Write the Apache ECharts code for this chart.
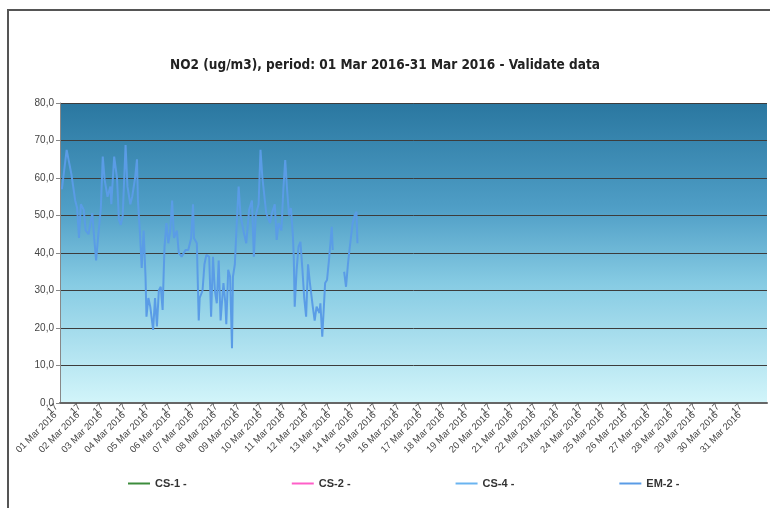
<!DOCTYPE html>
<html>
<head>
<meta charset="utf-8">
<script src="https://cdn.jsdelivr.net/npm/echarts@6/dist/echarts.min.js"></script>
<style>
  body { margin: 0; background: #fff; }
  #chart { width: 770px; height: 508px; }
</style>
</head>
<body>
<div id="chart"></div>
<script>
  // hours since 01 Mar 2016 00:00 and NO2 values
  var hours = [2, 7, 12, 16, 18, 20, 22, 25, 27, 30, 32, 34, 36, 38, 40, 43, 45, 47, 50, 53,
    54, 57, 60, 62, 64, 66, 69, 71, 74, 76, 79, 81, 82, 84, 86, 88, 90, 91, 93, 95,
    98, 100, 102, 104, 106, 108, 109, 110, 112, 114, 116, 118, 120, 123, 125, 128, 132, 135, 138, 140,
    141, 144, 146, 147, 150, 152, 154, 157, 159, 161, 163, 165, 167, 169, 172, 174, 175, 177, 179, 181,
    182, 184, 186, 188, 190, 193, 196, 199, 202, 204, 206, 209, 211, 213, 216, 217, 221, 223, 226, 228,
    230, 233, 235, 237, 239, 241, 243, 245, 246, 247, 249, 251, 253, 255, 257, 259, 261, 263, 266, 268,
    270, 273, 274, 276, 279, 281, 283, 286, 287, 293, 299, 301, 303, 305, 308, 310, 312, 313];
  var em2 = [57, 67.5, 61, 54, 52, 44, 53, 51.5, 46, 45, 48, 50.6, 44, 38, 44, 52, 65.7, 59.5, 55, 57.7,
    53, 65.7, 60, 48.8, 47.5, 50, 68.8, 57.7, 53, 55, 60, 65, 54, 46, 36, 46, 33.7, 23, 28, 25.7,
    19.5, 28, 20.4, 30, 31, 24.8, 33.7, 41.7, 48, 42.6, 46, 54, 44, 46, 40, 39, 40.8, 40.8, 44, 53,
    44, 42.6, 22, 28, 30, 37, 39.5, 39, 23, 39, 30, 26.6, 38, 22, 32, 26.6, 21, 35.5, 33.7, 14.6,
    33.7, 37, 48, 57.7, 50, 46, 42.6, 51.5, 54, 39, 50, 53, 67.5, 60, 53, 50.6, 48, 50.6, 53, 43.5,
    48, 46, 56.8, 64.8, 56.8, 50, 52, 45, 39, 25.7, 35.5, 41.7, 43, 36, 28, 23, 37, 32, 25.7, 22,
    25.7, 24, 26.6, 17.7, 32, 32.8, 38, 47, 40.8, null, 35, 31, 37, 41.7, 48, 50, 51, 42.6];
  var cs1 = [];
  var cs2 = [];
  var cs4 = [];
  var yTicks = [0, 10, 20, 30, 40, 50, 60, 70, 80];
  var days = [];
  for (var d = 1; d <= 31; d++) days.push((d < 10 ? '0' : '') + d + ' Mar 2016');

  function pairs(xs, ys) {
    return ys.map(function (v, i) { return [xs[i], v]; });
  }

  var chart = echarts.init(document.getElementById('chart'));
  chart.setOption({
    animation: false,
    textStyle: { fontFamily: 'Liberation Sans' },
    title: {
      text: 'NO2 (ug/m3), period: 01 Mar 2016-31 Mar 2016 - Validate data',
      left: 'center',
      top: 53,
      textStyle: { fontFamily: 'DejaVu Sans Condensed', fontSize: 13.5, fontWeight: 'bold', color: '#222' }
    },
    graphic: [{
      type: 'rect',
      shape: { x: 8, y: 10, width: 800, height: 600 },
      style: { fill: 'none', stroke: '#555', lineWidth: 2 },
      z: -1
    }],
    legend: {
      bottom: 14,
      left: 123,
      itemGap: 105,
      itemWidth: 22,
      itemHeight: 2,
      icon: 'rect',
      textStyle: { fontSize: 11, fontWeight: 'bold', color: '#333' },
      data: ['CS-1 -', 'CS-2 -', 'CS-4 -', 'EM-2 -']
    },
    grid: {
      left: 60, right: 3, top: 103, bottom: 105,
      show: true,
      borderWidth: 0,
      backgroundColor: new echarts.graphic.LinearGradient(0, 0, 0, 1, [
        { offset: 0, color: '#2a77a0' },
        { offset: 0.35, color: '#4f9ec6' },
        { offset: 0.6, color: '#86cbe3' },
        { offset: 1, color: '#d2f5fa' }
      ])
    },
    xAxis: {
      type: 'value',
      min: 0, max: 744, interval: 24,
      axisLine: { lineStyle: { color: '#666', width: 2 } },
      axisTick: { show: false },
      splitLine: { show: false },
      axisLabel: {
        rotate: 45,
        fontSize: 9.5,
        color: '#444',
        margin: 6,
        showMaxLabel: false,
        formatter: function (v) {
          var i = Math.round(v / 24);
          return i < days.length ? days[i] + '{b|17}' : '';
        },
        rich: { b: { fontSize: 9.5, color: '#444', padding: [0, 0, 10, -4] } }
      }
    },
    yAxis: {
      type: 'value',
      min: yTicks[0], max: yTicks[yTicks.length - 1], interval: 10,
      axisLine: { show: true, lineStyle: { color: '#888' } },
      axisTick: { show: true, length: 4, lineStyle: { color: '#888' } },
      splitLine: { lineStyle: { color: '#3c3c3c', width: 1 } },
      axisLabel: {
        fontSize: 10, color: '#444', margin: 6,
        formatter: function (v) { return v.toFixed(1).replace('.', ','); }
      }
    },
    series: [
      { name: 'CS-1 -', type: 'line', showSymbol: false, color: '#3c8c3c', data: pairs(hours, cs1) },
      { name: 'CS-2 -', type: 'line', showSymbol: false, color: '#ff5fc8', data: pairs(hours, cs2) },
      { name: 'CS-4 -', type: 'line', showSymbol: false, color: '#6ab4f0', data: pairs(hours, cs4) },
      {
        name: 'EM-2 -', type: 'line', showSymbol: false, color: '#5a9ce6',
        connectNulls: false,
        lineStyle: { width: 2 },
        data: pairs(hours, em2)
      }
    ]
  });
</script>
</body>
</html>
